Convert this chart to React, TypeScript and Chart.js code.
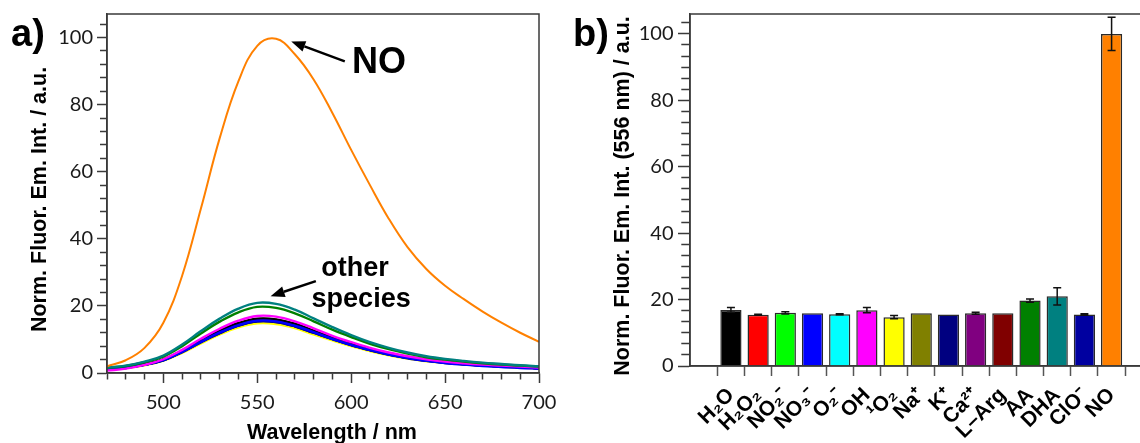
import React, { useEffect, useRef } from 'react';
import { Chart, registerables } from 'chart.js';

Chart.register(...registerables);

// ---------- Panel a: emission spectra ----------
const wavelengths = [470, 480, 490, 500, 510, 520, 530, 540, 550, 560, 570, 580, 590, 600, 610, 620, 630, 640, 650, 660, 670, 680, 690, 700];

const specNO = [2.0, 3.8, 7.5, 15, 29, 49, 70, 87, 97.5, 99.6, 95, 87.5, 77.5, 66.5, 56, 46, 37.5, 31, 26, 22, 18.3, 15, 12, 9.3];
const specDHA = [1.6, 2.2, 3.4, 5.2, 8.5, 12.5, 16.2, 19.2, 20.9, 20.6, 18.9, 16.3, 13.7, 11.3, 9.2, 7.5, 6.1, 5.0, 4.2, 3.6, 3.1, 2.7, 2.3, 2.0];
const specAA = [1.5, 2.1, 3.2, 4.9, 8.0, 11.8, 15.3, 18.1, 19.7, 19.4, 17.8, 15.4, 12.9, 10.7, 8.7, 7.1, 5.8, 4.7, 4.0, 3.4, 2.9, 2.5, 2.2, 1.9];
const specOH = [0.7, 1.3, 2.4, 4.1, 6.9, 10.2, 13.2, 15.6, 17.0, 16.8, 15.4, 13.3, 11.1, 9.2, 7.5, 6.1, 5.0, 4.1, 3.4, 2.9, 2.5, 2.2, 1.9, 1.6];
const specNO3 = [1.0, 1.5, 2.4, 3.9, 6.3, 9.3, 12.1, 14.3, 15.6, 15.4, 14.1, 12.2, 10.2, 8.4, 6.9, 5.6, 4.5, 3.6, 3.0, 2.5, 2.1, 1.8, 1.5, 1.3];
const specClO = [1.0, 1.5, 2.4, 3.8, 6.2, 9.2, 11.9, 14.1, 15.4, 15.2, 13.9, 12.0, 10.1, 8.3, 6.8, 5.5, 4.4, 3.6, 3.0, 2.6, 2.2, 1.9, 1.6, 1.4];
const specK = [1.1, 1.6, 2.5, 3.8, 6.3, 9.2, 11.9, 14.2, 15.4, 15.2, 13.9, 12.0, 10.1, 8.3, 6.8, 5.5, 4.5, 3.7, 3.1, 2.6, 2.3, 2.0, 1.7, 1.5];
const specH2O = [1.1, 1.6, 2.5, 4.0, 6.6, 9.7, 12.6, 14.9, 16.2, 16.0, 14.7, 12.6, 10.6, 8.8, 7.1, 5.8, 4.7, 3.9, 3.3, 2.8, 2.4, 2.1, 1.8, 1.5];
const specLArg = [1.1, 1.6, 2.6, 4.0, 6.5, 9.6, 12.4, 14.7, 16.0, 15.8, 14.5, 12.5, 10.5, 8.7, 7.0, 5.7, 4.7, 3.8, 3.2, 2.8, 2.4, 2.1, 1.8, 1.5];
const specCa = [1.1, 1.6, 2.5, 3.9, 6.4, 9.5, 12.3, 14.6, 15.9, 15.6, 14.4, 12.4, 10.4, 8.6, 7.0, 5.7, 4.6, 3.8, 3.2, 2.7, 2.3, 2.0, 1.7, 1.5];
const specNa = [1.1, 1.6, 2.5, 3.9, 6.4, 9.4, 12.2, 14.5, 15.8, 15.6, 14.3, 12.3, 10.4, 8.5, 7.0, 5.7, 4.6, 3.8, 3.2, 2.7, 2.3, 2.0, 1.7, 1.5];
const specNO2 = [1.1, 1.6, 2.5, 4.0, 6.5, 9.5, 12.3, 14.6, 15.9, 15.7, 14.4, 12.4, 10.4, 8.6, 7.0, 5.7, 4.6, 3.8, 3.2, 2.7, 2.4, 2.1, 1.8, 1.5];
const specO2 = [1.1, 1.6, 2.5, 3.8, 6.3, 9.2, 12.0, 14.2, 15.5, 15.3, 14.0, 12.1, 10.1, 8.4, 6.8, 5.5, 4.5, 3.7, 3.1, 2.7, 2.3, 2.0, 1.7, 1.5];
const specH2O2 = [1.1, 1.6, 2.5, 3.9, 6.3, 9.3, 12.0, 14.2, 15.5, 15.3, 14.0, 12.1, 10.2, 8.4, 6.8, 5.6, 4.5, 3.7, 3.1, 2.7, 2.3, 2.0, 1.7, 1.5];
const spec1O2 = [1.0, 1.5, 2.3, 3.7, 6.0, 8.8, 11.5, 13.6, 14.8, 14.6, 13.4, 11.5, 9.7, 8.0, 6.5, 5.3, 4.3, 3.5, 3.0, 2.5, 2.2, 1.9, 1.6, 1.4];

// draw order: first listed is drawn on top
const spectraSeries = [specNO, specDHA, specAA, specOH, specNO3, specClO, specK, specH2O, specLArg, specCa, specNa, specNO2, specO2, specH2O2, spec1O2];
const spectraColors = ['#ff8000', '#008080', '#008000', '#ff00ff', '#0000ff', '#0000a0', '#000080', '#000000', '#800000', '#800080', '#808000', '#00ff00', '#00ffff', '#ff0000', '#ffff00'];

// annotation anchors in data units (nm, a.u.)
const noLabelPos = [614.8, 89.3];
const noArrow = [596.6, 92.9, 568.1, 98.8];
const otherLabelPos = [602.1, 28.8];
const speciesLabelPos = [605.3, 19.6];
const otherArrow = [581.2, 27.4, 557.1, 22.9];

// ---------- Panel b: bar chart ----------
const categories = ['H₂O', 'H₂O₂', 'NO₂⁻', 'NO₃⁻', 'O₂⁻', 'OH', '¹O₂', 'Na⁺', 'K⁺', 'Ca²⁺', 'L–Arg', 'AA', 'DHA', 'ClO⁻', 'NO'];
const barValues = [16.9, 15.4, 16.0, 15.9, 15.6, 16.8, 14.7, 15.9, 15.5, 15.9, 15.9, 19.7, 21.0, 15.5, 100];
const barErrors = [0.7, 0.15, 0.35, 0, 0.15, 0.8, 0.5, 0, 0, 0.3, 0, 0.5, 2.6, 0.2, 5];
const barColors = ['#000000', '#ff0000', '#00ff00', '#0000ff', '#00ffff', '#ff00ff', '#ffff00', '#808000', '#000080', '#800080', '#800000', '#008000', '#008080', '#0000a0', '#ff8000'];

const near = (v: number, step: number) => Math.abs(v / step - Math.round(v / step)) < 1e-6;

const AXIS = '#3a3a3a';
const TICK_FONT = { family: 'Lato', size: 20 };
const TITLE_FONT = { family: '"Liberation Sans", Arial, sans-serif', size: 21.5, weight: 'bold' as const };

function drawArrow(ctx: CanvasRenderingContext2D, x1: number, y1: number, x2: number, y2: number) {
  const ang = Math.atan2(y2 - y1, x2 - x1);
  const hl = 14;
  const hw = 5.5;
  const bx = x2 - hl * Math.cos(ang);
  const by = y2 - hl * Math.sin(ang);
  ctx.lineWidth = 2.5;
  ctx.strokeStyle = '#000';
  ctx.fillStyle = '#000';
  ctx.beginPath();
  ctx.moveTo(x1, y1);
  ctx.lineTo(bx, by);
  ctx.stroke();
  ctx.beginPath();
  ctx.moveTo(x2, y2);
  ctx.lineTo(bx + hw * Math.sin(ang), by - hw * Math.cos(ang));
  ctx.lineTo(bx - hw * Math.sin(ang), by + hw * Math.cos(ang));
  ctx.closePath();
  ctx.fill();
}

const framePlugin = {
  id: 'frame',
  afterDatasetsDraw(chart: any) {
    const { ctx, chartArea } = chart;
    ctx.save();
    ctx.strokeStyle = AXIS;
    ctx.lineWidth = 1.5;
    ctx.strokeRect(chartArea.left, chartArea.top, chartArea.right - chartArea.left, chartArea.bottom - chartArea.top);
    ctx.restore();
  },
};

const annotAPlugin = {
  id: 'annotA',
  afterDraw(chart: any) {
    const { ctx } = chart;
    const x = chart.scales.x;
    const y = chart.scales.y;
    ctx.save();
    ctx.fillStyle = '#000';
    ctx.textBaseline = 'alphabetic';
    ctx.textAlign = 'left';
    ctx.font = 'bold 38px "Liberation Sans", Arial, sans-serif';
    ctx.fillText('a)', 11, 46);
    ctx.textAlign = 'center';
    ctx.font = 'bold 36px "Liberation Sans", Arial, sans-serif';
    ctx.fillText('NO', x.getPixelForValue(noLabelPos[0]), y.getPixelForValue(noLabelPos[1]));
    ctx.font = 'bold 27px "Liberation Sans", Arial, sans-serif';
    ctx.fillText('other', x.getPixelForValue(otherLabelPos[0]), y.getPixelForValue(otherLabelPos[1]));
    ctx.fillText('species', x.getPixelForValue(speciesLabelPos[0]), y.getPixelForValue(speciesLabelPos[1]));
    drawArrow(ctx, x.getPixelForValue(noArrow[0]), y.getPixelForValue(noArrow[1]), x.getPixelForValue(noArrow[2]), y.getPixelForValue(noArrow[3]));
    drawArrow(ctx, x.getPixelForValue(otherArrow[0]), y.getPixelForValue(otherArrow[1]), x.getPixelForValue(otherArrow[2]), y.getPixelForValue(otherArrow[3]));
    ctx.restore();
  },
};

const annotBPlugin = {
  id: 'annotB',
  afterDraw(chart: any) {
    const { ctx } = chart;
    ctx.save();
    ctx.fillStyle = '#000';
    ctx.textBaseline = 'alphabetic';
    ctx.textAlign = 'left';
    ctx.font = 'bold 38px "Liberation Sans", Arial, sans-serif';
    ctx.fillText('b)', 13, 46);
    ctx.restore();
  },
};

const errorBarPlugin = {
  id: 'errorBars',
  afterDatasetsDraw(chart: any) {
    const { ctx } = chart;
    const y = chart.scales.y;
    const meta = chart.getDatasetMeta(0);
    ctx.save();
    ctx.strokeStyle = '#111';
    ctx.lineWidth = 1.5;
    meta.data.forEach((bar: any, i: number) => {
      const e = barErrors[i];
      if (!e) return;
      const top = y.getPixelForValue(barValues[i] + e);
      const bot = y.getPixelForValue(barValues[i] - e);
      const cx = bar.x;
      const cap = 4;
      ctx.beginPath();
      ctx.moveTo(cx, top);
      ctx.lineTo(cx, bot);
      ctx.moveTo(cx - cap, top);
      ctx.lineTo(cx + cap, top);
      ctx.moveTo(cx - cap, bot);
      ctx.lineTo(cx + cap, bot);
      ctx.stroke();
    });
    ctx.restore();
  },
};

function zeroPad(s: any) {
  s.paddingTop = 0;
  s.paddingBottom = 0;
  s.paddingLeft = 0;
  s.paddingRight = 0;
}

export default function App() {
  const refA = useRef<HTMLCanvasElement>(null);
  const refB = useRef<HTMLCanvasElement>(null);

  useEffect(() => {
    const chartA = new Chart(refA.current as HTMLCanvasElement, {
      type: 'line',
      data: {
        datasets: spectraSeries.map((s, k) => ({
          data: wavelengths.map((w, i) => ({ x: w, y: s[i] })),
          borderColor: spectraColors[k],
          borderWidth: k === 0 ? 2 : 2.4,
          pointRadius: 0,
          tension: 0.4,
          fill: false,
        })),
      },
      options: {
        animation: false,
        responsive: false,
        events: [],
        layout: { padding: { left: 0, top: 14, right: 21, bottom: 0 } },
        plugins: { legend: { display: false }, tooltip: { enabled: false } },
        scales: {
          x: {
            type: 'linear',
            min: 470,
            max: 700,
            bounds: 'data',
            afterFit: (s: any) => { s.height = 87; zeroPad(s); },
            border: { display: true, color: AXIS, width: 1.5 },
            grid: {
              drawOnChartArea: false,
              drawTicks: true,
              tickLength: 10,
              tickWidth: 1.5,
              tickColor: AXIS,
              tickBorderDash: (c: any) => (c.tick && near(c.tick.value, 50) ? [] : [6, 100]),
            },
            ticks: {
              stepSize: 10,
              autoSkip: false,
              maxRotation: 0,
              minRotation: 0,
              padding: 8,
              color: '#1a1a1a',
              font: TICK_FONT,
              callback: (v: any) => (near(Number(v), 50) ? String(Math.round(Number(v))) : ''),
            },
            title: {
              display: true,
              text: '   Wavelength / nm',
              color: '#000',
              font: TITLE_FONT,
              padding: { top: 0, bottom: 14 },
            },
          },
          y: {
            type: 'linear',
            min: 0,
            max: 107,
            bounds: 'data',
            afterBuildTicks: (s: any) => { s.ticks = s.ticks.filter((t: any) => near(t.value, 4)); },
            afterFit: (s: any) => { s.width = 107; zeroPad(s); },
            border: { display: true, color: AXIS, width: 1.5 },
            grid: {
              drawOnChartArea: false,
              drawTicks: true,
              tickLength: 10,
              tickWidth: 1.5,
              tickColor: AXIS,
              tickBorderDash: (c: any) => (c.tick && near(c.tick.value, 20) ? [] : [0, 3, 100, 0]),
            },
            ticks: {
              stepSize: 4,
              autoSkip: false,
              padding: 4,
              color: '#1a1a1a',
              font: TICK_FONT,
              callback: (v: any) => (near(Number(v), 20) ? String(Math.round(Number(v))) : ''),
            },
            title: {
              display: true,
              text: 'Norm. Fluor. Em. Int. / a.u.  ',
              color: '#000',
              font: TITLE_FONT,
              padding: { top: 27.4, bottom: 0 },
            },
          },
        },
      },
      plugins: [framePlugin, annotAPlugin],
    } as any);

    const chartB = new Chart(refB.current as HTMLCanvasElement, {
      type: 'bar',
      data: {
        datasets: [
          {
            data: barValues.map((v, i) => ({ x: i, y: v })),
            backgroundColor: barColors,
            borderColor: '#2a2a2a',
            borderWidth: 1.5,
            barPercentage: 0.78,
            categoryPercentage: 1,
          },
        ],
      },
      options: {
        animation: false,
        responsive: false,
        events: [],
        layout: { padding: { left: 0, top: 14, right: 17, bottom: 0 } },
        plugins: { legend: { display: false }, tooltip: { enabled: false } },
        scales: {
          x: {
            type: 'linear',
            min: -0.95,
            max: 14.6,
            bounds: 'data',
            afterBuildTicks: (s: any) => { s.ticks = categories.map((_, i) => ({ value: i })); },
            afterFit: (s: any) => { s.height = 94; zeroPad(s); },
            border: { display: true, color: AXIS, width: 1.5 },
            grid: {
              drawOnChartArea: false,
              drawTicks: true,
              tickLength: 10,
              tickWidth: 1.5,
              tickColor: '#555',
            },
            ticks: {
              autoSkip: false,
              maxRotation: 45,
              minRotation: 45,
              padding: 7,
              color: '#000',
              font: { family: '"Liberation Sans", Arial, sans-serif', size: 21, weight: 'bold' },
              callback: (v: any) => categories[Number(v)] ?? '',
            },
          },
          y: {
            type: 'linear',
            min: 0,
            max: 106,
            bounds: 'data',
            afterBuildTicks: (s: any) => { s.ticks = s.ticks.filter((t: any) => near(t.value, 10 / 3)); },
            afterFit: (s: any) => { s.width = 130; zeroPad(s); },
            border: { display: true, color: AXIS, width: 1.5 },
            grid: {
              drawOnChartArea: false,
              drawTicks: true,
              tickLength: 12,
              tickWidth: 1.5,
              tickColor: AXIS,
              tickBorderDash: (c: any) => (c.tick && near(c.tick.value, 20) ? [] : [0, 3.3, 100, 0]),
            },
            ticks: {
              stepSize: 10 / 3,
              autoSkip: false,
              padding: 4.5,
              color: '#1a1a1a',
              font: TICK_FONT,
              callback: (v: any) => (near(Number(v), 20) ? String(Math.round(Number(v))) : ''),
            },
            title: {
              display: true,
              text: 'Norm. Fluor. Em. Int. (556 nm) / a.u.  ',
              color: '#000',
              font: TITLE_FONT,
              padding: { top: 50, bottom: 0 },
            },
          },
        },
      },
      plugins: [framePlugin, errorBarPlugin, annotBPlugin],
    } as any);

    return () => {
      chartA.destroy();
      chartB.destroy();
    };
  }, []);

  return (
    <div style={{ position: 'absolute', left: 0, top: 0, width: 1140, height: 443, overflow: 'hidden', background: '#fff' }}>
      <canvas ref={refA} width={560} height={460} style={{ position: 'absolute', left: 0, top: 0 }} />
      <canvas ref={refB} width={600} height={460} style={{ position: 'absolute', left: 560, top: 0 }} />
    </div>
  );
}
